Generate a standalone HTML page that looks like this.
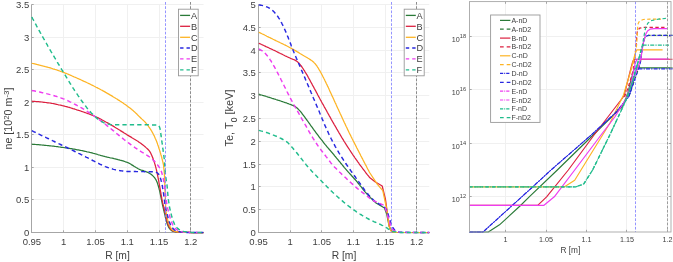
<!DOCTYPE html>
<html><head><meta charset="utf-8"><title>Profiles</title>
<style>
html,body{margin:0;padding:0;background:#fff;}
svg{display:block;will-change:transform;opacity:0.999;font-family:"Liberation Sans",sans-serif;fill:#404040;}
</style></head><body>
<svg width="673" height="262" viewBox="0 0 673 262">
<rect width="673" height="262" fill="#fff"/>
<line x1="31.5" y1="4.5" x2="31.5" y2="232.5" stroke="#f0f0f0" stroke-width="1"/>
<line x1="63.5" y1="4.5" x2="63.5" y2="232.5" stroke="#f0f0f0" stroke-width="1"/>
<line x1="95.5" y1="4.5" x2="95.5" y2="232.5" stroke="#f0f0f0" stroke-width="1"/>
<line x1="127.5" y1="4.5" x2="127.5" y2="232.5" stroke="#f0f0f0" stroke-width="1"/>
<line x1="159.5" y1="4.5" x2="159.5" y2="232.5" stroke="#f0f0f0" stroke-width="1"/>
<line x1="190.5" y1="4.5" x2="190.5" y2="232.5" stroke="#f0f0f0" stroke-width="1"/>
<line x1="31.9" y1="232.5" x2="203.54" y2="232.5" stroke="#f0f0f0" stroke-width="1"/>
<line x1="31.9" y1="199.5" x2="203.54" y2="199.5" stroke="#f0f0f0" stroke-width="1"/>
<line x1="31.9" y1="167.5" x2="203.54" y2="167.5" stroke="#f0f0f0" stroke-width="1"/>
<line x1="31.9" y1="134.5" x2="203.54" y2="134.5" stroke="#f0f0f0" stroke-width="1"/>
<line x1="31.9" y1="102.5" x2="203.54" y2="102.5" stroke="#f0f0f0" stroke-width="1"/>
<line x1="31.9" y1="69.5" x2="203.54" y2="69.5" stroke="#f0f0f0" stroke-width="1"/>
<line x1="31.9" y1="37.5" x2="203.54" y2="37.5" stroke="#f0f0f0" stroke-width="1"/>
<line x1="31.9" y1="4.5" x2="203.54" y2="4.5" stroke="#f0f0f0" stroke-width="1"/>
<line x1="31.5" y1="4.5" x2="31.5" y2="233.0" stroke="#a6a6a6" stroke-width="1"/>
<line x1="31.0" y1="232.5" x2="203.54" y2="232.5" stroke="#a6a6a6" stroke-width="1"/>
<line x1="31.5" y1="232.5" x2="31.5" y2="230.3" stroke="#a6a6a6" stroke-width="1"/>
<line x1="63.5" y1="232.5" x2="63.5" y2="230.3" stroke="#a6a6a6" stroke-width="1"/>
<line x1="95.5" y1="232.5" x2="95.5" y2="230.3" stroke="#a6a6a6" stroke-width="1"/>
<line x1="127.5" y1="232.5" x2="127.5" y2="230.3" stroke="#a6a6a6" stroke-width="1"/>
<line x1="159.5" y1="232.5" x2="159.5" y2="230.3" stroke="#a6a6a6" stroke-width="1"/>
<line x1="190.5" y1="232.5" x2="190.5" y2="230.3" stroke="#a6a6a6" stroke-width="1"/>
<line x1="31.5" y1="232.5" x2="33.7" y2="232.5" stroke="#a6a6a6" stroke-width="1"/>
<line x1="31.5" y1="199.5" x2="33.7" y2="199.5" stroke="#a6a6a6" stroke-width="1"/>
<line x1="31.5" y1="167.5" x2="33.7" y2="167.5" stroke="#a6a6a6" stroke-width="1"/>
<line x1="31.5" y1="134.5" x2="33.7" y2="134.5" stroke="#a6a6a6" stroke-width="1"/>
<line x1="31.5" y1="102.5" x2="33.7" y2="102.5" stroke="#a6a6a6" stroke-width="1"/>
<line x1="31.5" y1="69.5" x2="33.7" y2="69.5" stroke="#a6a6a6" stroke-width="1"/>
<line x1="31.5" y1="37.5" x2="33.7" y2="37.5" stroke="#a6a6a6" stroke-width="1"/>
<line x1="31.5" y1="4.5" x2="33.7" y2="4.5" stroke="#a6a6a6" stroke-width="1"/>
<path d="M31.8 144.2 L32.8 144.3 L33.8 144.3 L34.8 144.4 L35.8 144.5 L36.8 144.6 L37.8 144.6 L38.8 144.7 L39.8 144.8 L40.7 144.9 L41.7 145.0 L42.7 145.1 L43.7 145.2 L44.7 145.3 L45.7 145.4 L46.7 145.5 L47.7 145.6 L48.7 145.7 L49.7 145.8 L50.7 145.9 L51.6 146.0 L52.6 146.1 L53.6 146.2 L54.6 146.3 L55.6 146.5 L56.6 146.6 L57.6 146.7 L58.6 146.9 L59.6 147.0 L60.5 147.1 L61.5 147.3 L62.5 147.4 L63.5 147.5 L64.5 147.7 L65.5 147.8 L66.5 148.0 L67.4 148.1 L68.4 148.3 L69.4 148.4 L70.4 148.6 L71.4 148.7 L72.4 148.9 L73.4 149.1 L74.3 149.2 L75.3 149.4 L76.3 149.6 L77.3 149.8 L78.3 149.9 L79.2 150.1 L80.2 150.3 L81.2 150.5 L82.2 150.7 L83.1 150.9 L84.1 151.1 L85.1 151.3 L86.1 151.5 L87.0 151.8 L88.0 152.0 L89.0 152.2 L89.9 152.5 L90.9 152.7 L91.9 152.9 L92.8 153.2 L93.8 153.5 L94.8 153.7 L95.7 154.0 L96.7 154.2 L97.6 154.5 L98.6 154.8 L99.6 155.0 L100.5 155.3 L101.5 155.6 L102.5 155.8 L103.4 156.1 L104.4 156.3 L105.3 156.6 L106.3 156.8 L107.3 157.1 L108.3 157.3 L109.2 157.5 L110.2 157.8 L111.2 158.0 L112.2 158.2 L113.2 158.4 L114.1 158.7 L115.1 158.9 L116.1 159.1 L117.1 159.3 L118.1 159.6 L119.0 159.8 L120.0 160.1 L120.9 160.3 L121.9 160.6 L122.9 160.9 L123.8 161.2 L124.7 161.5 L125.6 161.8 L126.6 162.1 L127.5 162.5 L128.4 162.9 L129.2 163.3 L130.1 163.8 L131.0 164.3 L131.8 164.9 L132.7 165.4 L133.5 165.9 L134.4 166.5 L135.3 167.0 L136.1 167.5 L137.0 168.0 L137.8 168.5 L138.7 169.0 L139.6 169.4 L140.5 169.8 L141.4 170.1 L142.4 170.4 L143.4 170.7 L144.3 171.0 L145.3 171.3 L146.2 171.7 L147.1 172.1 L148.0 172.5 L148.9 173.0 L149.8 173.5 L150.6 174.0 L151.4 174.6 L152.2 175.2 L152.9 175.9 L153.6 176.6 L154.3 177.4 L154.9 178.2 L155.5 179.0 L156.0 179.8 L156.4 180.7 L156.8 181.6 L157.2 182.5 L157.5 183.4 L157.8 184.4 L158.1 185.3 L158.4 186.3 L158.7 187.3 L159.0 188.3 L159.2 189.2 L159.5 190.2 L159.7 191.2 L159.9 192.1 L160.1 193.1 L160.3 194.1 L160.5 195.1 L160.7 196.0 L160.9 197.0 L161.1 198.0 L161.3 199.0 L161.5 200.0 L161.7 200.9 L161.9 201.9 L162.1 202.9 L162.3 203.9 L162.5 204.8 L162.7 205.8 L163.0 206.8 L163.2 207.8 L163.4 208.7 L163.6 209.7 L163.9 210.7 L164.1 211.6 L164.3 212.6 L164.6 213.6 L164.8 214.5 L165.0 215.5 L165.2 216.5 L165.4 217.5 L165.7 218.4 L165.9 219.4 L166.2 220.4 L166.4 221.3 L166.7 222.3 L167.0 223.2 L167.4 224.2 L167.7 225.1 L168.1 226.0 L168.5 226.9 L169.0 227.8 L169.6 228.6 L170.2 229.4 L170.9 230.1 L171.7 230.7 L172.6 231.2 L173.5 231.5 L174.5 231.7 L175.5 231.9 L176.5 232.1 L177.5 232.1 L178.5 232.2 L179.5 232.3 L180.5 232.3 L181.5 232.4 L182.5 232.4 L183.5 232.4 L184.5 232.4 L185.5 232.4 L186.5 232.4 L187.5 232.4 L188.5 232.4 L189.4 232.5 L190.4 232.5 L191.4 232.5 L192.4 232.5 L193.4 232.5 L194.4 232.5 L195.4 232.5 L196.4 232.5 L197.4 232.5 L198.4 232.5 L199.4 232.5 L200.4 232.5 L201.4 232.5 L202.4 232.5 L203.4 232.5" fill="none" stroke="#2a7a38" stroke-width="1.25" stroke-linejoin="round"/>
<path d="M31.8 101.2 L32.8 101.3 L33.8 101.3 L34.8 101.4 L35.8 101.5 L36.8 101.5 L37.8 101.6 L38.8 101.7 L39.8 101.8 L40.8 101.9 L41.8 102.0 L42.8 102.1 L43.8 102.3 L44.7 102.4 L45.7 102.5 L46.7 102.6 L47.7 102.8 L48.7 102.9 L49.7 103.0 L50.7 103.2 L51.7 103.4 L52.6 103.5 L53.6 103.7 L54.6 103.9 L55.6 104.1 L56.6 104.3 L57.5 104.5 L58.5 104.8 L59.5 105.0 L60.5 105.2 L61.4 105.4 L62.4 105.7 L63.4 105.9 L64.4 106.1 L65.3 106.4 L66.3 106.6 L67.3 106.9 L68.2 107.2 L69.2 107.4 L70.1 107.7 L71.1 108.0 L72.1 108.3 L73.0 108.6 L74.0 108.9 L74.9 109.2 L75.9 109.5 L76.8 109.8 L77.8 110.1 L78.7 110.4 L79.7 110.7 L80.6 111.0 L81.6 111.4 L82.5 111.7 L83.5 112.0 L84.4 112.3 L85.4 112.7 L86.3 113.0 L87.2 113.3 L88.2 113.7 L89.1 114.0 L90.1 114.4 L91.0 114.7 L91.9 115.1 L92.8 115.5 L93.8 115.9 L94.7 116.3 L95.6 116.7 L96.5 117.1 L97.4 117.5 L98.3 117.9 L99.2 118.4 L100.1 118.8 L101.0 119.3 L101.9 119.8 L102.7 120.2 L103.6 120.7 L104.5 121.2 L105.4 121.7 L106.3 122.2 L107.1 122.6 L108.0 123.1 L108.9 123.6 L109.7 124.1 L110.6 124.6 L111.5 125.1 L112.3 125.6 L113.2 126.1 L114.0 126.6 L114.9 127.2 L115.7 127.7 L116.6 128.2 L117.4 128.7 L118.3 129.3 L119.1 129.8 L120.0 130.3 L120.8 130.9 L121.7 131.4 L122.5 131.9 L123.4 132.4 L124.2 133.0 L125.1 133.5 L125.9 134.0 L126.8 134.6 L127.6 135.1 L128.5 135.6 L129.3 136.1 L130.2 136.6 L131.1 137.1 L131.9 137.7 L132.8 138.2 L133.6 138.7 L134.5 139.2 L135.3 139.7 L136.2 140.3 L137.0 140.8 L137.9 141.3 L138.7 141.9 L139.5 142.5 L140.3 143.0 L141.1 143.6 L141.9 144.2 L142.7 144.8 L143.5 145.4 L144.3 146.1 L145.1 146.7 L145.8 147.4 L146.6 148.1 L147.3 148.7 L148.1 149.5 L148.7 150.2 L149.3 150.9 L149.9 151.7 L150.4 152.6 L150.9 153.5 L151.3 154.4 L151.7 155.3 L152.1 156.2 L152.5 157.2 L152.8 158.1 L153.2 159.0 L153.5 160.0 L153.9 160.9 L154.2 161.9 L154.5 162.8 L154.8 163.8 L155.1 164.7 L155.4 165.7 L155.6 166.7 L155.9 167.6 L156.1 168.6 L156.4 169.6 L156.6 170.5 L156.8 171.5 L157.0 172.5 L157.2 173.5 L157.4 174.4 L157.6 175.4 L157.8 176.4 L158.0 177.4 L158.2 178.4 L158.4 179.4 L158.6 180.3 L158.8 181.3 L158.9 182.3 L159.1 183.3 L159.3 184.3 L159.5 185.2 L159.6 186.2 L159.8 187.2 L160.0 188.2 L160.2 189.2 L160.3 190.2 L160.5 191.2 L160.7 192.1 L160.9 193.1 L161.0 194.1 L161.2 195.1 L161.4 196.1 L161.6 197.1 L161.7 198.0 L161.9 199.0 L162.1 200.0 L162.3 201.0 L162.5 202.0 L162.7 202.9 L163.0 203.9 L163.2 204.9 L163.5 205.8 L163.7 206.8 L163.9 207.8 L164.2 208.8 L164.4 209.7 L164.7 210.7 L164.9 211.7 L165.1 212.6 L165.4 213.6 L165.6 214.6 L165.8 215.6 L166.0 216.5 L166.2 217.5 L166.5 218.5 L166.7 219.4 L167.0 220.4 L167.2 221.4 L167.5 222.4 L167.8 223.3 L168.1 224.2 L168.5 225.2 L168.9 226.1 L169.4 227.0 L169.9 227.8 L170.4 228.7 L171.1 229.5 L171.8 230.1 L172.6 230.7 L173.5 231.1 L174.5 231.4 L175.4 231.7 L176.4 231.9 L177.4 232.0 L178.4 232.1 L179.4 232.2 L180.4 232.3 L181.4 232.3 L182.4 232.4 L183.4 232.4 L184.4 232.4 L185.4 232.4 L186.4 232.4 L187.4 232.4 L188.4 232.4 L189.4 232.4 L190.4 232.5 L191.4 232.5 L192.4 232.5 L193.4 232.5 L194.4 232.5 L195.4 232.5 L196.4 232.5 L197.4 232.5 L198.4 232.5 L199.4 232.5 L200.4 232.5 L201.4 232.5 L202.4 232.5 L203.4 232.5" fill="none" stroke="#dc2040" stroke-width="1.25" stroke-linejoin="round"/>
<path d="M31.8 63.3 L32.8 63.5 L33.8 63.7 L34.7 63.9 L35.7 64.1 L36.7 64.4 L37.6 64.6 L38.6 64.8 L39.6 65.1 L40.6 65.3 L41.5 65.6 L42.5 65.8 L43.5 66.1 L44.4 66.3 L45.4 66.6 L46.3 66.8 L47.3 67.1 L48.3 67.4 L49.2 67.6 L50.2 67.9 L51.1 68.2 L52.1 68.5 L53.0 68.8 L54.0 69.1 L54.9 69.4 L55.9 69.7 L56.8 70.0 L57.8 70.4 L58.7 70.7 L59.7 71.0 L60.6 71.4 L61.5 71.7 L62.5 72.0 L63.4 72.4 L64.3 72.7 L65.3 73.1 L66.2 73.4 L67.1 73.8 L68.0 74.2 L69.0 74.6 L69.9 75.0 L70.8 75.4 L71.7 75.8 L72.6 76.2 L73.5 76.6 L74.4 77.0 L75.4 77.4 L76.3 77.8 L77.2 78.2 L78.1 78.6 L79.0 79.0 L79.9 79.4 L80.8 79.8 L81.7 80.2 L82.6 80.6 L83.5 81.1 L84.4 81.5 L85.3 81.9 L86.2 82.3 L87.2 82.8 L88.1 83.2 L89.0 83.6 L89.9 84.0 L90.7 84.5 L91.6 84.9 L92.5 85.4 L93.4 85.8 L94.3 86.3 L95.2 86.7 L96.1 87.2 L97.0 87.6 L97.9 88.1 L98.7 88.5 L99.6 89.0 L100.5 89.5 L101.4 90.0 L102.3 90.4 L103.1 90.9 L104.0 91.4 L104.9 91.9 L105.7 92.4 L106.6 92.9 L107.4 93.4 L108.3 93.9 L109.2 94.4 L110.0 94.9 L110.9 95.4 L111.8 95.9 L112.6 96.4 L113.5 97.0 L114.3 97.5 L115.2 98.0 L116.0 98.5 L116.9 99.0 L117.7 99.6 L118.6 100.1 L119.4 100.6 L120.3 101.2 L121.1 101.7 L121.9 102.3 L122.8 102.8 L123.6 103.4 L124.4 104.0 L125.2 104.5 L126.0 105.1 L126.8 105.7 L127.6 106.3 L128.4 106.9 L129.2 107.5 L130.0 108.1 L130.8 108.7 L131.6 109.3 L132.3 110.0 L133.1 110.6 L133.8 111.3 L134.6 111.9 L135.3 112.6 L136.0 113.3 L136.8 114.0 L137.4 114.7 L138.1 115.4 L138.8 116.1 L139.5 116.8 L140.3 117.5 L141.0 118.2 L141.7 118.9 L142.5 119.6 L143.2 120.2 L143.9 120.9 L144.6 121.6 L145.3 122.3 L146.0 123.1 L146.6 123.9 L147.2 124.6 L147.8 125.4 L148.4 126.2 L149.0 127.1 L149.6 127.9 L150.1 128.7 L150.7 129.5 L151.2 130.4 L151.7 131.2 L152.2 132.1 L152.7 133.0 L153.2 133.9 L153.6 134.8 L154.1 135.6 L154.5 136.5 L154.9 137.4 L155.3 138.4 L155.7 139.3 L156.1 140.2 L156.5 141.1 L156.8 142.1 L157.2 143.0 L157.5 143.9 L157.8 144.9 L158.2 145.8 L158.5 146.8 L158.8 147.7 L159.1 148.7 L159.4 149.6 L159.7 150.6 L160.0 151.5 L160.3 152.5 L160.6 153.4 L160.8 154.4 L161.1 155.3 L161.4 156.3 L161.7 157.2 L161.9 158.2 L162.2 159.2 L162.4 160.1 L162.6 161.1 L162.9 162.1 L163.1 163.1 L163.3 164.0 L163.5 165.0 L163.6 166.0 L163.7 167.0 L163.8 168.0 L163.9 169.0 L164.0 170.0 L164.1 171.0 L164.2 172.0 L164.3 173.0 L164.4 173.9 L164.4 174.9 L164.5 175.9 L164.5 176.9 L164.6 177.9 L164.6 178.9 L164.7 179.9 L164.7 180.9 L164.7 181.9 L164.8 182.9 L164.8 183.9 L164.8 184.9 L164.9 185.9 L164.9 186.9 L164.9 187.9 L165.0 188.9 L165.0 189.9 L165.0 190.9 L165.1 191.9 L165.1 192.9 L165.1 193.9 L165.2 194.9 L165.2 195.9 L165.2 196.9 L165.3 197.9 L165.3 198.9 L165.4 199.9 L165.4 200.8 L165.4 201.8 L165.5 202.8 L165.5 203.8 L165.6 204.8 L165.6 205.8 L165.7 206.8 L165.8 207.8 L165.8 208.8 L165.9 209.8 L166.0 210.8 L166.1 211.8 L166.2 212.8 L166.4 213.8 L166.6 214.7 L166.8 215.7 L167.0 216.7 L167.2 217.7 L167.4 218.6 L167.6 219.6 L167.9 220.6 L168.2 221.5 L168.5 222.5 L168.8 223.4 L169.1 224.4 L169.5 225.3 L169.9 226.2 L170.4 227.1 L170.9 228.0 L171.4 228.8 L172.1 229.6 L172.8 230.2 L173.7 230.7 L174.6 231.2 L175.5 231.5 L176.5 231.7 L177.5 231.9 L178.5 232.0 L179.5 232.1 L180.5 232.2 L181.5 232.3 L182.5 232.3 L183.5 232.4 L184.5 232.4 L185.5 232.4 L186.5 232.4 L187.4 232.4 L188.4 232.4 L189.4 232.4 L190.4 232.5 L191.4 232.5 L192.4 232.5 L193.4 232.5 L194.4 232.5 L195.4 232.5 L196.4 232.5 L197.4 232.5 L198.4 232.5 L199.4 232.5 L200.4 232.5 L201.4 232.5 L202.4 232.5 L203.4 232.5" fill="none" stroke="#fdb424" stroke-width="1.25" stroke-linejoin="round"/>
<path d="M31.8 130.7 L32.7 131.1 L33.6 131.6 L34.5 132.0 L35.4 132.4 L36.3 132.9 L37.2 133.3 L38.1 133.7 L39.0 134.2 L39.9 134.6 L40.8 135.1 L41.7 135.5 L42.6 135.9 L43.5 136.4 L44.4 136.8 L45.3 137.2 L46.2 137.7 L47.1 138.1 L48.0 138.5 L48.9 138.9 L49.8 139.4 L50.7 139.8 L51.6 140.2 L52.5 140.7 L53.4 141.1 L54.3 141.5 L55.2 142.0 L56.1 142.4 L57.0 142.8 L57.9 143.2 L58.8 143.7 L59.7 144.1 L60.6 144.5 L61.5 145.0 L62.4 145.4 L63.3 145.8 L64.2 146.2 L65.1 146.7 L66.0 147.1 L66.8 147.5 L67.7 148.0 L68.6 148.4 L69.5 148.9 L70.4 149.3 L71.3 149.7 L72.2 150.2 L73.1 150.6 L74.0 151.0 L74.9 151.5 L75.8 151.9 L76.7 152.4 L77.6 152.8 L78.5 153.3 L79.4 153.7 L80.3 154.1 L81.2 154.6 L82.1 155.0 L82.9 155.5 L83.8 155.9 L84.7 156.4 L85.6 156.8 L86.5 157.3 L87.4 157.7 L88.3 158.2 L89.2 158.6 L90.1 159.1 L90.9 159.6 L91.8 160.0 L92.7 160.5 L93.6 160.9 L94.5 161.4 L95.4 161.9 L96.3 162.3 L97.1 162.8 L98.0 163.2 L98.9 163.6 L99.8 164.1 L100.7 164.5 L101.6 164.9 L102.5 165.3 L103.5 165.7 L104.4 166.2 L105.3 166.6 L106.2 166.9 L107.1 167.3 L108.1 167.6 L109.0 167.9 L110.0 168.2 L110.9 168.5 L111.9 168.8 L112.8 169.1 L113.8 169.4 L114.8 169.6 L115.7 169.9 L116.7 170.1 L117.7 170.2 L118.7 170.4 L119.7 170.6 L120.6 170.7 L121.6 170.9 L122.6 171.0 L123.6 171.1 L124.6 171.2 L125.6 171.3 L126.6 171.4 L127.6 171.4 L128.6 171.4 L129.6 171.5 L130.6 171.5 L131.6 171.5 L132.6 171.5 L133.6 171.5 L134.6 171.5 L135.6 171.5 L136.6 171.6 L137.6 171.6 L138.6 171.6 L139.6 171.6 L140.6 171.6 L141.6 171.6 L142.6 171.6 L143.6 171.6 L144.6 171.7 L145.6 171.7 L146.6 171.7 L147.7 171.7 L148.7 171.7 L149.7 171.7 L150.7 171.8 L151.7 171.8 L152.6 171.8 L153.6 171.8 L154.5 171.9 L155.5 172.0 L156.5 172.4 L157.4 173.0 L158.1 173.6 L158.6 174.2 L159.1 175.1 L159.6 176.0 L160.0 177.0 L160.4 178.0 L160.7 179.0 L161.0 179.9 L161.2 180.9 L161.5 181.8 L161.7 182.8 L161.9 183.8 L162.1 184.8 L162.3 185.8 L162.5 186.8 L162.6 187.7 L162.8 188.7 L163.0 189.7 L163.1 190.7 L163.3 191.7 L163.4 192.7 L163.6 193.7 L163.7 194.6 L163.8 195.6 L164.0 196.6 L164.1 197.6 L164.2 198.6 L164.4 199.6 L164.5 200.6 L164.6 201.6 L164.7 202.6 L164.8 203.6 L165.0 204.5 L165.1 205.5 L165.3 206.5 L165.5 207.5 L165.7 208.5 L165.9 209.4 L166.2 210.4 L166.5 211.3 L166.7 212.3 L167.0 213.3 L167.2 214.3 L167.4 215.2 L167.7 216.2 L167.9 217.2 L168.1 218.1 L168.4 219.1 L168.7 220.0 L169.0 221.0 L169.3 222.0 L169.7 222.9 L170.1 223.8 L170.5 224.7 L170.9 225.6 L171.4 226.5 L172.0 227.3 L172.6 228.1 L173.3 228.9 L174.0 229.5 L174.8 230.1 L175.7 230.6 L176.6 231.0 L177.6 231.4 L178.5 231.6 L179.5 231.8 L180.5 232.0 L181.5 232.1 L182.5 232.2 L183.5 232.3 L184.5 232.3 L185.4 232.3 L186.4 232.4 L187.4 232.4 L188.4 232.4 L189.4 232.4 L190.4 232.4 L191.4 232.4 L192.4 232.4 L193.4 232.5 L194.4 232.5 L195.4 232.5 L196.4 232.5 L197.4 232.5 L198.4 232.5 L199.4 232.5 L200.4 232.5 L201.4 232.5 L202.4 232.5 L203.4 232.5" fill="none" stroke="#2828e0" stroke-width="1.45" stroke-dasharray="4.3 3.1" stroke-linejoin="round"/>
<path d="M31.8 90.5 L32.8 90.7 L33.8 90.8 L34.8 91.0 L35.7 91.2 L36.7 91.4 L37.7 91.6 L38.7 91.8 L39.7 92.0 L40.6 92.2 L41.6 92.5 L42.6 92.7 L43.6 92.9 L44.5 93.1 L45.5 93.4 L46.5 93.6 L47.4 93.9 L48.4 94.1 L49.4 94.4 L50.3 94.6 L51.3 94.9 L52.3 95.2 L53.2 95.4 L54.2 95.7 L55.1 96.0 L56.1 96.3 L57.1 96.6 L58.0 96.9 L59.0 97.2 L59.9 97.6 L60.8 97.9 L61.8 98.2 L62.7 98.6 L63.6 98.9 L64.6 99.3 L65.5 99.7 L66.4 100.1 L67.3 100.5 L68.2 100.9 L69.1 101.3 L70.0 101.8 L70.9 102.2 L71.8 102.7 L72.7 103.1 L73.6 103.6 L74.5 104.1 L75.4 104.5 L76.3 105.0 L77.1 105.5 L78.0 106.0 L78.9 106.4 L79.8 106.9 L80.6 107.4 L81.5 107.9 L82.4 108.4 L83.2 108.9 L84.1 109.4 L84.9 110.0 L85.8 110.5 L86.6 111.0 L87.5 111.6 L88.3 112.1 L89.2 112.7 L90.0 113.2 L90.8 113.8 L91.7 114.3 L92.5 114.9 L93.3 115.4 L94.1 116.0 L95.0 116.6 L95.8 117.1 L96.6 117.7 L97.4 118.3 L98.2 118.9 L99.0 119.5 L99.8 120.1 L100.6 120.7 L101.4 121.3 L102.2 121.9 L103.0 122.5 L103.8 123.1 L104.6 123.7 L105.4 124.3 L106.2 125.0 L106.9 125.6 L107.7 126.2 L108.5 126.8 L109.3 127.4 L110.1 128.0 L110.9 128.7 L111.6 129.3 L112.4 129.9 L113.2 130.6 L114.0 131.2 L114.7 131.9 L115.5 132.5 L116.3 133.1 L117.0 133.8 L117.8 134.4 L118.6 135.1 L119.3 135.7 L120.1 136.3 L120.9 137.0 L121.7 137.6 L122.4 138.2 L123.2 138.8 L124.0 139.5 L124.8 140.1 L125.6 140.7 L126.4 141.3 L127.1 141.9 L127.9 142.5 L128.8 143.1 L129.6 143.7 L130.4 144.3 L131.2 144.9 L132.0 145.5 L132.8 146.0 L133.6 146.6 L134.4 147.2 L135.3 147.8 L136.1 148.3 L136.9 148.9 L137.7 149.5 L138.5 150.0 L139.4 150.6 L140.2 151.1 L141.1 151.7 L141.9 152.2 L142.8 152.7 L143.6 153.2 L144.5 153.7 L145.4 154.2 L146.2 154.8 L147.1 155.3 L147.9 155.8 L148.7 156.4 L149.6 157.0 L150.3 157.6 L151.1 158.2 L151.9 158.8 L152.6 159.5 L153.3 160.2 L154.1 160.9 L154.8 161.6 L155.4 162.4 L156.1 163.1 L156.7 163.9 L157.4 164.7 L158.0 165.5 L158.5 166.3 L159.1 167.1 L159.6 168.0 L160.1 168.9 L160.6 169.8 L161.0 170.7 L161.4 171.6 L161.7 172.5 L162.0 173.5 L162.2 174.4 L162.5 175.4 L162.7 176.3 L163.0 177.3 L163.2 178.3 L163.4 179.3 L163.6 180.3 L163.8 181.3 L163.9 182.3 L164.1 183.2 L164.3 184.2 L164.4 185.2 L164.6 186.2 L164.7 187.2 L164.8 188.2 L165.0 189.2 L165.1 190.2 L165.2 191.2 L165.3 192.2 L165.4 193.2 L165.5 194.1 L165.6 195.1 L165.7 196.1 L165.8 197.1 L165.9 198.1 L166.1 199.1 L166.2 200.1 L166.4 201.1 L166.5 202.1 L166.7 203.1 L166.8 204.1 L167.0 205.0 L167.2 206.0 L167.4 207.0 L167.6 208.0 L167.8 209.0 L168.1 209.9 L168.3 210.9 L168.6 211.9 L168.8 212.8 L169.1 213.8 L169.4 214.8 L169.6 215.7 L169.9 216.7 L170.1 217.7 L170.4 218.6 L170.7 219.6 L171.0 220.5 L171.3 221.5 L171.7 222.4 L172.1 223.3 L172.5 224.3 L172.9 225.2 L173.4 226.1 L173.9 226.9 L174.5 227.6 L175.2 228.4 L176.0 229.0 L176.9 229.7 L177.7 230.2 L178.6 230.6 L179.5 230.9 L180.5 231.2 L181.5 231.5 L182.4 231.7 L183.4 231.9 L184.4 232.0 L185.4 232.1 L186.4 232.2 L187.4 232.3 L188.4 232.3 L189.4 232.4 L190.4 232.4 L191.4 232.4 L192.4 232.4 L193.4 232.4 L194.4 232.5 L195.4 232.5 L196.4 232.5 L197.4 232.5 L198.4 232.5 L199.4 232.5 L200.4 232.5 L201.4 232.5 L202.4 232.5 L203.4 232.5" fill="none" stroke="#ee3cf0" stroke-width="1.45" stroke-dasharray="4.3 3.1" stroke-linejoin="round"/>
<path d="M31.8 17.0 L32.3 17.9 L32.7 18.8 L33.2 19.6 L33.7 20.5 L34.2 21.4 L34.6 22.3 L35.1 23.2 L35.6 24.0 L36.1 24.9 L36.5 25.8 L37.0 26.7 L37.5 27.5 L38.0 28.4 L38.5 29.3 L38.9 30.2 L39.4 31.0 L39.9 31.9 L40.4 32.8 L40.9 33.6 L41.4 34.5 L41.9 35.4 L42.3 36.3 L42.8 37.1 L43.3 38.0 L43.8 38.9 L44.3 39.7 L44.8 40.6 L45.3 41.5 L45.8 42.3 L46.3 43.2 L46.8 44.1 L47.3 44.9 L47.7 45.8 L48.2 46.7 L48.7 47.5 L49.2 48.4 L49.7 49.3 L50.2 50.1 L50.7 51.0 L51.2 51.9 L51.7 52.7 L52.2 53.6 L52.7 54.4 L53.3 55.3 L53.8 56.2 L54.3 57.0 L54.8 57.9 L55.3 58.7 L55.8 59.6 L56.3 60.5 L56.8 61.3 L57.3 62.2 L57.8 63.0 L58.3 63.9 L58.9 64.7 L59.4 65.6 L59.9 66.4 L60.4 67.3 L60.9 68.2 L61.4 69.0 L61.9 69.9 L62.5 70.7 L63.0 71.6 L63.5 72.4 L64.0 73.3 L64.5 74.1 L65.1 75.0 L65.6 75.8 L66.1 76.7 L66.6 77.5 L67.1 78.4 L67.6 79.3 L68.2 80.1 L68.7 81.0 L69.2 81.8 L69.7 82.7 L70.2 83.5 L70.8 84.4 L71.3 85.2 L71.8 86.1 L72.3 86.9 L72.9 87.8 L73.4 88.6 L74.0 89.4 L74.5 90.3 L75.0 91.1 L75.6 91.9 L76.1 92.8 L76.7 93.6 L77.3 94.4 L77.8 95.2 L78.4 96.1 L79.0 96.9 L79.5 97.7 L80.1 98.5 L80.7 99.3 L81.2 100.2 L81.8 101.0 L82.4 101.8 L83.0 102.6 L83.6 103.4 L84.2 104.2 L84.8 105.0 L85.4 105.8 L86.0 106.6 L86.6 107.4 L87.2 108.2 L87.9 109.0 L88.5 109.7 L89.1 110.5 L89.8 111.2 L90.5 112.0 L91.1 112.7 L91.8 113.4 L92.5 114.1 L93.2 114.9 L93.9 115.6 L94.6 116.3 L95.4 116.9 L96.1 117.6 L96.9 118.3 L97.7 118.9 L98.5 119.4 L99.3 120.0 L100.1 120.6 L101.0 121.1 L101.9 121.6 L102.7 122.1 L103.6 122.6 L104.6 123.0 L105.5 123.3 L106.4 123.6 L107.4 123.9 L108.3 124.1 L109.3 124.3 L110.3 124.5 L111.3 124.6 L112.3 124.6 L113.3 124.6 L114.3 124.7 L115.3 124.7 L116.3 124.7 L117.3 124.7 L118.3 124.7 L119.3 124.8 L120.3 124.8 L121.3 124.8 L122.3 124.8 L123.3 124.8 L124.3 124.8 L125.3 124.8 L126.3 124.8 L127.3 124.8 L128.4 124.8 L129.5 124.8 L130.5 124.8 L131.6 124.8 L132.8 124.8 L133.9 124.8 L135.0 124.8 L136.1 124.8 L137.2 124.8 L138.4 124.8 L139.5 124.8 L140.6 124.8 L141.7 124.8 L142.8 124.8 L143.9 124.8 L145.0 124.8 L146.0 124.8 L147.1 124.8 L148.1 124.8 L149.1 124.8 L150.1 124.9 L151.1 124.9 L152.0 124.9 L152.9 124.9 L153.7 124.9 L154.6 124.9 L155.4 124.9 L156.1 124.9 L156.8 124.9 L157.5 124.9 L158.1 124.9 L158.7 125.5 L159.3 126.5 L159.7 127.6 L160.0 128.6 L160.2 129.5 L160.3 130.5 L160.5 131.5 L160.6 132.5 L160.8 133.5 L160.9 134.5 L161.0 135.5 L161.2 136.5 L161.3 137.5 L161.5 138.5 L161.6 139.5 L161.7 140.4 L161.9 141.4 L162.0 142.4 L162.2 143.4 L162.3 144.4 L162.4 145.4 L162.6 146.4 L162.7 147.4 L162.8 148.3 L163.0 149.3 L163.1 150.3 L163.2 151.3 L163.4 152.3 L163.5 153.3 L163.6 154.3 L163.8 155.3 L163.9 156.3 L164.0 157.2 L164.2 158.2 L164.3 159.2 L164.4 160.2 L164.5 161.2 L164.5 162.2 L164.6 163.2 L164.7 164.2 L164.8 165.2 L164.8 166.2 L164.9 167.2 L165.0 168.2 L165.0 169.2 L165.1 170.2 L165.2 171.2 L165.2 172.2 L165.3 173.2 L165.4 174.2 L165.5 175.1 L165.6 176.1 L165.8 177.1 L165.9 178.1 L166.1 179.1 L166.2 180.1 L166.4 181.1 L166.5 182.1 L166.7 183.0 L166.9 184.0 L167.0 185.0 L167.1 186.0 L167.2 187.0 L167.3 188.0 L167.4 189.0 L167.5 190.0 L167.6 191.0 L167.6 192.0 L167.7 193.0 L167.8 194.0 L167.9 194.9 L167.9 195.9 L168.0 196.9 L168.2 197.9 L168.3 198.9 L168.4 199.9 L168.6 200.9 L168.7 201.9 L168.9 202.9 L169.0 203.8 L169.2 204.8 L169.3 205.8 L169.5 206.8 L169.7 207.8 L169.9 208.8 L170.1 209.7 L170.3 210.7 L170.5 211.7 L170.7 212.7 L171.0 213.6 L171.3 214.6 L171.5 215.5 L171.8 216.5 L172.1 217.5 L172.4 218.4 L172.7 219.4 L173.0 220.4 L173.3 221.3 L173.7 222.2 L174.1 223.1 L174.5 224.0 L175.0 224.9 L175.5 225.8 L176.1 226.6 L176.7 227.4 L177.4 228.1 L178.1 228.7 L178.9 229.3 L179.8 229.9 L180.7 230.3 L181.6 230.7 L182.5 231.1 L183.5 231.4 L184.5 231.6 L185.5 231.8 L186.4 232.0 L187.4 232.1 L188.4 232.2 L189.4 232.2 L190.4 232.3 L191.4 232.4 L192.4 232.4 L193.4 232.4 L194.4 232.4 L195.4 232.4 L196.4 232.5 L197.4 232.5 L198.4 232.5 L199.4 232.5 L200.4 232.5 L201.4 232.5 L202.4 232.5 L203.4 232.5" fill="none" stroke="#20bc8c" stroke-width="1.45" stroke-dasharray="4.3 3.1" stroke-linejoin="round"/>
<line x1="165.5" y1="2.0" x2="165.5" y2="232.5" stroke="#7a7aff" stroke-width="0.8" stroke-dasharray="2.7 1.55"/>
<line x1="190.5" y1="2.0" x2="190.5" y2="232.5" stroke="#808080" stroke-width="0.9" stroke-dasharray="2.7 1.55"/>
<text x="31.9" y="245.1" font-size="9.5" text-anchor="middle">0.95</text>
<text x="63.7" y="245.1" font-size="9.5" text-anchor="middle">1</text>
<text x="95.5" y="245.1" font-size="9.5" text-anchor="middle">1.05</text>
<text x="127.3" y="245.1" font-size="9.5" text-anchor="middle">1.1</text>
<text x="159.0" y="245.1" font-size="9.5" text-anchor="middle">1.15</text>
<text x="190.8" y="245.1" font-size="9.5" text-anchor="middle">1.2</text>
<text x="29.2" y="236.0" font-size="9.5" text-anchor="end">0</text>
<text x="29.2" y="203.4" font-size="9.5" text-anchor="end">0.5</text>
<text x="29.2" y="170.9" font-size="9.5" text-anchor="end">1</text>
<text x="29.2" y="138.3" font-size="9.5" text-anchor="end">1.5</text>
<text x="29.2" y="105.7" font-size="9.5" text-anchor="end">2</text>
<text x="29.2" y="73.2" font-size="9.5" text-anchor="end">2.5</text>
<text x="29.2" y="40.6" font-size="9.5" text-anchor="end">3</text>
<text x="29.2" y="8.0" font-size="9.5" text-anchor="end">3.5</text>
<text x="117.5" y="258.6" font-size="10.3" text-anchor="middle">R [m]</text>
<text transform="translate(12.4,118.5) rotate(-90)" font-size="10.7" text-anchor="middle">ne [10<tspan font-size="8" dy="-3.4">2</tspan><tspan dy="3.4">0 m</tspan><tspan font-size="8" dy="-3.4">-3</tspan><tspan dy="3.4">]</tspan></text>
<rect x="178.5" y="9.2" width="19.69999999999999" height="66.6" fill="#fff" stroke="#999" stroke-width="0.9"/>
<line x1="180.1" y1="15.4" x2="190.1" y2="15.4" stroke="#2a7a38" stroke-width="1.3"/>
<text x="190.9" y="18.7" font-size="9.2" text-anchor="start">A</text>
<line x1="180.1" y1="26.3" x2="190.1" y2="26.3" stroke="#dc2040" stroke-width="1.3"/>
<text x="190.9" y="29.6" font-size="9.2" text-anchor="start">B</text>
<line x1="180.1" y1="37.3" x2="190.1" y2="37.3" stroke="#fdb424" stroke-width="1.3"/>
<text x="190.9" y="40.599999999999994" font-size="9.2" text-anchor="start">C</text>
<line x1="180.1" y1="48.0" x2="190.1" y2="48.0" stroke="#2828e0" stroke-width="1.3" stroke-dasharray="3.4 3.0"/>
<text x="190.9" y="51.3" font-size="9.2" text-anchor="start">D</text>
<line x1="180.1" y1="58.9" x2="190.1" y2="58.9" stroke="#ee3cf0" stroke-width="1.3" stroke-dasharray="3.4 3.0"/>
<text x="190.9" y="62.199999999999996" font-size="9.2" text-anchor="start">E</text>
<line x1="180.1" y1="69.8" x2="190.1" y2="69.8" stroke="#20bc8c" stroke-width="1.3" stroke-dasharray="3.4 3.0"/>
<text x="190.9" y="73.1" font-size="9.2" text-anchor="start">F</text>
<line x1="258.5" y1="4.5" x2="258.5" y2="232.5" stroke="#f0f0f0" stroke-width="1"/>
<line x1="290.5" y1="4.5" x2="290.5" y2="232.5" stroke="#f0f0f0" stroke-width="1"/>
<line x1="321.5" y1="4.5" x2="321.5" y2="232.5" stroke="#f0f0f0" stroke-width="1"/>
<line x1="353.5" y1="4.5" x2="353.5" y2="232.5" stroke="#f0f0f0" stroke-width="1"/>
<line x1="385.5" y1="4.5" x2="385.5" y2="232.5" stroke="#f0f0f0" stroke-width="1"/>
<line x1="416.5" y1="4.5" x2="416.5" y2="232.5" stroke="#f0f0f0" stroke-width="1"/>
<line x1="258.6" y1="232.5" x2="429.3" y2="232.5" stroke="#f0f0f0" stroke-width="1"/>
<line x1="258.6" y1="209.5" x2="429.3" y2="209.5" stroke="#f0f0f0" stroke-width="1"/>
<line x1="258.6" y1="186.5" x2="429.3" y2="186.5" stroke="#f0f0f0" stroke-width="1"/>
<line x1="258.6" y1="164.5" x2="429.3" y2="164.5" stroke="#f0f0f0" stroke-width="1"/>
<line x1="258.6" y1="141.5" x2="429.3" y2="141.5" stroke="#f0f0f0" stroke-width="1"/>
<line x1="258.6" y1="118.5" x2="429.3" y2="118.5" stroke="#f0f0f0" stroke-width="1"/>
<line x1="258.6" y1="95.5" x2="429.3" y2="95.5" stroke="#f0f0f0" stroke-width="1"/>
<line x1="258.6" y1="72.5" x2="429.3" y2="72.5" stroke="#f0f0f0" stroke-width="1"/>
<line x1="258.6" y1="50.5" x2="429.3" y2="50.5" stroke="#f0f0f0" stroke-width="1"/>
<line x1="258.6" y1="27.5" x2="429.3" y2="27.5" stroke="#f0f0f0" stroke-width="1"/>
<line x1="258.6" y1="4.5" x2="429.3" y2="4.5" stroke="#f0f0f0" stroke-width="1"/>
<line x1="258.5" y1="4.5" x2="258.5" y2="233.0" stroke="#a6a6a6" stroke-width="1"/>
<line x1="258.0" y1="232.5" x2="429.3" y2="232.5" stroke="#a6a6a6" stroke-width="1"/>
<line x1="258.5" y1="232.5" x2="258.5" y2="230.3" stroke="#a6a6a6" stroke-width="1"/>
<line x1="290.5" y1="232.5" x2="290.5" y2="230.3" stroke="#a6a6a6" stroke-width="1"/>
<line x1="321.5" y1="232.5" x2="321.5" y2="230.3" stroke="#a6a6a6" stroke-width="1"/>
<line x1="353.5" y1="232.5" x2="353.5" y2="230.3" stroke="#a6a6a6" stroke-width="1"/>
<line x1="385.5" y1="232.5" x2="385.5" y2="230.3" stroke="#a6a6a6" stroke-width="1"/>
<line x1="416.5" y1="232.5" x2="416.5" y2="230.3" stroke="#a6a6a6" stroke-width="1"/>
<line x1="258.5" y1="232.5" x2="260.7" y2="232.5" stroke="#a6a6a6" stroke-width="1"/>
<line x1="258.5" y1="209.5" x2="260.7" y2="209.5" stroke="#a6a6a6" stroke-width="1"/>
<line x1="258.5" y1="186.5" x2="260.7" y2="186.5" stroke="#a6a6a6" stroke-width="1"/>
<line x1="258.5" y1="164.5" x2="260.7" y2="164.5" stroke="#a6a6a6" stroke-width="1"/>
<line x1="258.5" y1="141.5" x2="260.7" y2="141.5" stroke="#a6a6a6" stroke-width="1"/>
<line x1="258.5" y1="118.5" x2="260.7" y2="118.5" stroke="#a6a6a6" stroke-width="1"/>
<line x1="258.5" y1="95.5" x2="260.7" y2="95.5" stroke="#a6a6a6" stroke-width="1"/>
<line x1="258.5" y1="72.5" x2="260.7" y2="72.5" stroke="#a6a6a6" stroke-width="1"/>
<line x1="258.5" y1="50.5" x2="260.7" y2="50.5" stroke="#a6a6a6" stroke-width="1"/>
<line x1="258.5" y1="27.5" x2="260.7" y2="27.5" stroke="#a6a6a6" stroke-width="1"/>
<line x1="258.5" y1="4.5" x2="260.7" y2="4.5" stroke="#a6a6a6" stroke-width="1"/>
<path d="M258.8 94.2 L259.8 94.5 L260.7 94.8 L261.7 95.0 L262.6 95.3 L263.6 95.6 L264.5 95.9 L265.5 96.2 L266.4 96.5 L267.4 96.8 L268.3 97.1 L269.3 97.4 L270.2 97.7 L271.2 98.0 L272.1 98.3 L273.1 98.6 L274.0 98.9 L275.0 99.2 L275.9 99.5 L276.9 99.8 L277.8 100.1 L278.8 100.4 L279.7 100.7 L280.7 101.0 L281.6 101.3 L282.6 101.6 L283.5 102.0 L284.5 102.3 L285.4 102.6 L286.4 102.9 L287.3 103.3 L288.2 103.6 L289.2 104.0 L290.1 104.3 L291.0 104.7 L292.0 105.1 L292.9 105.4 L293.8 105.9 L294.7 106.3 L295.5 106.8 L296.3 107.4 L297.1 108.0 L297.8 108.7 L298.5 109.4 L299.2 110.2 L299.9 110.9 L300.6 111.6 L301.2 112.4 L301.8 113.2 L302.4 114.0 L303.0 114.8 L303.6 115.6 L304.2 116.4 L304.8 117.2 L305.4 118.0 L306.0 118.8 L306.6 119.6 L307.1 120.4 L307.7 121.2 L308.3 122.0 L308.9 122.8 L309.5 123.6 L310.1 124.5 L310.6 125.3 L311.2 126.1 L311.8 126.9 L312.4 127.7 L313.0 128.5 L313.5 129.3 L314.1 130.1 L314.7 130.9 L315.3 131.7 L315.9 132.5 L316.5 133.3 L317.1 134.1 L317.7 134.9 L318.3 135.7 L318.9 136.5 L319.5 137.3 L320.1 138.1 L320.7 138.9 L321.4 139.7 L322.0 140.4 L322.6 141.2 L323.2 142.0 L323.8 142.8 L324.4 143.6 L325.0 144.4 L325.7 145.1 L326.3 145.9 L326.9 146.7 L327.6 147.4 L328.2 148.2 L328.9 149.0 L329.5 149.7 L330.2 150.5 L330.8 151.2 L331.5 152.0 L332.1 152.7 L332.8 153.5 L333.4 154.2 L334.1 155.0 L334.7 155.8 L335.3 156.5 L336.0 157.3 L336.6 158.1 L337.2 158.8 L337.9 159.6 L338.5 160.4 L339.1 161.2 L339.8 161.9 L340.4 162.7 L341.0 163.5 L341.7 164.2 L342.3 165.0 L342.9 165.8 L343.6 166.5 L344.2 167.3 L344.9 168.1 L345.5 168.8 L346.2 169.6 L346.8 170.3 L347.5 171.1 L348.1 171.8 L348.8 172.6 L349.5 173.3 L350.1 174.0 L350.8 174.8 L351.5 175.5 L352.1 176.3 L352.8 177.0 L353.5 177.7 L354.1 178.5 L354.8 179.2 L355.5 180.0 L356.1 180.7 L356.8 181.5 L357.4 182.2 L358.0 183.0 L358.7 183.8 L359.3 184.6 L359.9 185.3 L360.5 186.1 L361.2 186.9 L361.8 187.7 L362.4 188.5 L363.0 189.3 L363.6 190.0 L364.3 190.8 L364.9 191.6 L365.5 192.3 L366.2 193.1 L366.8 193.8 L367.5 194.6 L368.2 195.3 L368.9 196.0 L369.6 196.7 L370.3 197.5 L371.0 198.2 L371.7 198.9 L372.4 199.6 L373.1 200.3 L373.8 201.0 L374.5 201.6 L375.3 202.3 L376.0 203.0 L376.0 203.0 L384.5 208.0 L386.7 214.0 L389.2 226.6 L391.0 230.6 L393.2 232.1 L396.7 232.4 L429.2 232.5" fill="none" stroke="#2a7a38" stroke-width="1.25" stroke-linejoin="round"/>
<path d="M258.8 43.2 L259.7 43.6 L260.6 44.0 L261.5 44.5 L262.4 44.9 L263.3 45.3 L264.2 45.7 L265.1 46.1 L266.0 46.6 L266.9 47.0 L267.8 47.4 L268.7 47.8 L269.6 48.3 L270.6 48.7 L271.5 49.1 L272.4 49.5 L273.3 50.0 L274.2 50.4 L275.1 50.8 L276.0 51.3 L276.9 51.7 L277.7 52.1 L278.6 52.6 L279.5 53.0 L280.4 53.5 L281.3 53.9 L282.2 54.3 L283.1 54.8 L284.0 55.2 L284.9 55.7 L285.8 56.1 L286.7 56.5 L287.6 57.0 L288.5 57.4 L289.4 57.8 L290.3 58.2 L291.2 58.6 L292.2 59.0 L293.1 59.4 L294.1 59.7 L295.0 60.1 L295.8 60.6 L296.7 61.1 L297.4 61.7 L298.1 62.4 L298.8 63.1 L299.5 63.9 L300.2 64.7 L300.8 65.5 L301.4 66.2 L302.0 67.1 L302.5 67.9 L303.1 68.7 L303.6 69.6 L304.2 70.4 L304.7 71.2 L305.2 72.1 L305.7 72.9 L306.3 73.8 L306.8 74.6 L307.3 75.5 L307.8 76.4 L308.2 77.2 L308.7 78.1 L309.2 79.0 L309.7 79.9 L310.2 80.8 L310.6 81.6 L311.1 82.5 L311.6 83.4 L312.1 84.3 L312.5 85.1 L313.0 86.0 L313.5 86.9 L314.0 87.8 L314.4 88.6 L314.9 89.5 L315.4 90.4 L315.9 91.3 L316.3 92.2 L316.8 93.0 L317.3 93.9 L317.7 94.8 L318.2 95.7 L318.7 96.6 L319.2 97.4 L319.6 98.3 L320.1 99.2 L320.6 100.1 L321.1 100.9 L321.5 101.8 L322.0 102.7 L322.5 103.6 L323.0 104.4 L323.5 105.3 L324.0 106.2 L324.4 107.1 L324.9 107.9 L325.4 108.8 L325.9 109.7 L326.4 110.5 L326.9 111.4 L327.3 112.3 L327.8 113.2 L328.3 114.0 L328.8 114.9 L329.3 115.8 L329.8 116.6 L330.3 117.5 L330.8 118.4 L331.2 119.3 L331.7 120.1 L332.2 121.0 L332.7 121.9 L333.2 122.7 L333.7 123.6 L334.2 124.5 L334.7 125.3 L335.2 126.2 L335.7 127.0 L336.2 127.9 L336.7 128.8 L337.2 129.6 L337.7 130.5 L338.2 131.4 L338.7 132.2 L339.2 133.1 L339.7 133.9 L340.2 134.8 L340.7 135.7 L341.2 136.5 L341.7 137.4 L342.2 138.2 L342.8 139.1 L343.3 139.9 L343.8 140.8 L344.3 141.6 L344.9 142.5 L345.4 143.3 L345.9 144.2 L346.5 145.0 L347.0 145.9 L347.5 146.7 L348.1 147.5 L348.6 148.4 L349.2 149.2 L349.7 150.0 L350.3 150.9 L350.8 151.7 L351.4 152.5 L351.9 153.4 L352.5 154.2 L353.0 155.0 L353.6 155.8 L354.2 156.7 L354.7 157.5 L355.3 158.3 L355.9 159.1 L356.4 159.9 L357.0 160.7 L357.6 161.6 L358.2 162.4 L358.8 163.2 L359.3 164.0 L359.9 164.8 L360.5 165.6 L361.1 166.4 L361.7 167.2 L362.3 168.0 L362.9 168.8 L363.5 169.6 L364.1 170.4 L364.7 171.2 L365.3 172.0 L365.9 172.8 L366.5 173.6 L367.1 174.4 L367.7 175.1 L368.4 175.9 L369.0 176.7 L369.6 177.5 L369.6 177.5 L375.0 181.7 L382.2 186.0 L385.5 199.5 L388.2 219.0 L389.9 228.5 L391.7 231.5 L395.7 232.3 L429.2 232.5" fill="none" stroke="#dc2040" stroke-width="1.25" stroke-linejoin="round"/>
<path d="M258.8 32.2 L259.7 32.6 L260.6 33.1 L261.5 33.5 L262.4 34.0 L263.3 34.4 L264.2 34.8 L265.1 35.3 L266.0 35.7 L266.8 36.2 L267.7 36.6 L268.6 37.1 L269.5 37.5 L270.4 37.9 L271.3 38.4 L272.2 38.8 L273.1 39.3 L274.0 39.7 L274.9 40.1 L275.8 40.6 L276.7 41.0 L277.6 41.5 L278.5 41.9 L279.4 42.3 L280.3 42.8 L281.2 43.2 L282.1 43.6 L283.0 44.0 L283.9 44.5 L284.8 44.9 L285.7 45.4 L286.6 45.8 L287.4 46.3 L288.3 46.7 L289.2 47.2 L290.1 47.7 L291.0 48.1 L291.8 48.6 L292.7 49.1 L293.6 49.6 L294.4 50.1 L295.3 50.6 L296.2 51.1 L297.0 51.6 L297.9 52.1 L298.7 52.6 L299.6 53.2 L300.4 53.7 L301.3 54.2 L302.1 54.7 L303.0 55.3 L303.8 55.8 L304.7 56.3 L305.5 56.8 L306.4 57.3 L307.3 57.8 L308.1 58.3 L309.0 58.8 L309.9 59.4 L310.7 59.9 L311.5 60.5 L312.3 61.0 L313.1 61.7 L313.8 62.3 L314.5 63.1 L315.2 63.8 L315.8 64.6 L316.4 65.4 L317.0 66.2 L317.5 67.0 L318.1 67.8 L318.6 68.7 L319.1 69.6 L319.6 70.4 L320.1 71.3 L320.6 72.2 L321.1 73.0 L321.5 73.9 L322.0 74.8 L322.5 75.7 L322.9 76.6 L323.4 77.5 L323.8 78.3 L324.3 79.2 L324.7 80.1 L325.1 81.0 L325.6 81.9 L326.0 82.8 L326.4 83.7 L326.9 84.6 L327.3 85.5 L327.7 86.4 L328.2 87.3 L328.6 88.2 L329.0 89.1 L329.4 90.1 L329.8 91.0 L330.2 91.9 L330.7 92.8 L331.1 93.7 L331.5 94.6 L331.9 95.5 L332.3 96.4 L332.8 97.3 L333.2 98.2 L333.6 99.1 L334.0 100.0 L334.4 100.9 L334.8 101.8 L335.2 102.7 L335.7 103.6 L336.1 104.6 L336.5 105.5 L336.9 106.4 L337.3 107.3 L337.7 108.2 L338.2 109.1 L338.6 110.0 L339.0 110.9 L339.4 111.8 L339.8 112.7 L340.2 113.6 L340.7 114.5 L341.1 115.4 L341.5 116.3 L341.9 117.2 L342.3 118.1 L342.7 119.0 L343.2 120.0 L343.6 120.9 L344.0 121.8 L344.4 122.7 L344.9 123.6 L345.3 124.5 L345.7 125.4 L346.1 126.3 L346.6 127.2 L347.0 128.1 L347.4 129.0 L347.8 129.9 L348.3 130.8 L348.7 131.7 L349.1 132.6 L349.6 133.5 L350.0 134.4 L350.5 135.3 L350.9 136.1 L351.3 137.0 L351.8 137.9 L352.2 138.8 L352.7 139.7 L353.1 140.6 L353.6 141.5 L354.0 142.4 L354.5 143.3 L354.9 144.2 L355.4 145.0 L355.8 145.9 L356.3 146.8 L356.7 147.7 L357.2 148.6 L357.7 149.5 L358.1 150.4 L358.6 151.3 L359.0 152.2 L359.5 153.0 L359.9 153.9 L360.4 154.8 L360.8 155.7 L361.3 156.6 L361.8 157.5 L362.2 158.4 L362.7 159.2 L363.1 160.1 L363.6 161.0 L364.0 161.9 L364.5 162.8 L365.0 163.7 L365.4 164.6 L365.9 165.4 L366.4 166.3 L366.8 167.2 L367.3 168.1 L367.7 169.0 L368.2 169.9 L368.7 170.7 L369.1 171.6 L369.6 172.5 L369.6 172.5 L377.4 184.4 L382.8 190.6 L386.7 209.0 L389.2 226.6 L391.0 231.0 L393.7 232.3 L429.2 232.5" fill="none" stroke="#fdb424" stroke-width="1.25" stroke-linejoin="round"/>
<path d="M258.8 5.0 L259.8 5.1 L260.8 5.2 L261.8 5.4 L262.8 5.6 L263.7 5.8 L264.7 6.1 L265.6 6.4 L266.6 6.8 L267.5 7.2 L268.4 7.6 L269.3 8.1 L270.1 8.6 L270.9 9.1 L271.7 9.7 L272.5 10.4 L273.2 11.1 L273.9 11.8 L274.6 12.5 L275.2 13.3 L275.9 14.0 L276.5 14.8 L277.1 15.6 L277.7 16.4 L278.3 17.2 L278.8 18.1 L279.4 18.9 L279.9 19.8 L280.4 20.6 L280.9 21.5 L281.3 22.4 L281.8 23.2 L282.2 24.1 L282.7 25.0 L283.1 25.9 L283.5 26.8 L284.0 27.7 L284.4 28.7 L284.8 29.6 L285.2 30.5 L285.6 31.4 L286.0 32.3 L286.4 33.2 L286.8 34.1 L287.2 35.1 L287.5 36.0 L287.9 36.9 L288.3 37.8 L288.6 38.7 L289.0 39.7 L289.4 40.6 L289.7 41.5 L290.1 42.5 L290.4 43.4 L290.8 44.3 L291.1 45.3 L291.5 46.2 L291.9 47.1 L292.2 48.0 L292.6 49.0 L293.0 49.9 L293.3 50.8 L293.7 51.7 L294.1 52.7 L294.5 53.6 L294.9 54.5 L295.3 55.4 L295.6 56.3 L296.0 57.2 L296.4 58.2 L296.8 59.1 L297.2 60.0 L297.6 60.9 L298.0 61.8 L298.4 62.7 L298.8 63.7 L299.2 64.6 L299.6 65.5 L300.0 66.4 L300.3 67.3 L300.7 68.2 L301.1 69.1 L301.5 70.1 L301.9 71.0 L302.3 71.9 L302.7 72.8 L303.1 73.7 L303.5 74.6 L303.9 75.6 L304.3 76.5 L304.7 77.4 L305.1 78.3 L305.4 79.2 L305.8 80.1 L306.2 81.0 L306.6 82.0 L307.0 82.9 L307.4 83.8 L307.8 84.7 L308.2 85.6 L308.6 86.5 L309.0 87.5 L309.4 88.4 L309.7 89.3 L310.1 90.2 L310.5 91.1 L310.9 92.0 L311.3 93.0 L311.7 93.9 L312.1 94.8 L312.5 95.7 L312.9 96.6 L313.2 97.5 L313.6 98.5 L314.0 99.4 L314.4 100.3 L314.8 101.2 L315.2 102.1 L315.6 103.0 L316.0 104.0 L316.3 104.9 L316.7 105.8 L317.1 106.7 L317.5 107.6 L317.9 108.5 L318.3 109.5 L318.7 110.4 L319.1 111.3 L319.5 112.2 L319.8 113.1 L320.2 114.1 L320.6 115.0 L321.0 115.9 L321.4 116.8 L321.8 117.7 L322.1 118.7 L322.5 119.6 L322.9 120.5 L323.3 121.4 L323.7 122.3 L324.1 123.3 L324.4 124.2 L324.8 125.1 L325.2 126.0 L325.6 126.9 L326.0 127.8 L326.4 128.7 L326.8 129.6 L327.3 130.5 L327.7 131.4 L328.1 132.3 L328.5 133.3 L328.9 134.2 L329.4 135.0 L329.8 135.9 L330.2 136.8 L330.7 137.7 L331.1 138.6 L331.6 139.5 L332.0 140.4 L332.5 141.3 L332.9 142.2 L333.4 143.1 L333.9 143.9 L334.4 144.8 L334.8 145.7 L335.3 146.6 L335.8 147.4 L336.3 148.3 L336.8 149.1 L337.3 150.0 L337.8 150.9 L338.3 151.7 L338.8 152.6 L339.3 153.4 L339.9 154.3 L340.4 155.1 L340.9 156.0 L341.4 156.8 L342.0 157.7 L342.5 158.5 L343.1 159.3 L343.6 160.2 L344.1 161.0 L344.7 161.8 L345.2 162.7 L345.8 163.5 L346.3 164.3 L346.9 165.1 L347.5 166.0 L348.0 166.8 L348.6 167.6 L349.2 168.4 L349.7 169.2 L350.3 170.0 L350.9 170.9 L351.5 171.7 L352.1 172.5 L352.6 173.3 L353.2 174.1 L353.8 174.9 L354.4 175.7 L355.0 176.5 L355.6 177.3 L356.1 178.1 L356.7 178.9 L357.3 179.7 L357.9 180.6 L358.5 181.4 L359.0 182.2 L359.6 183.0 L360.2 183.8 L360.8 184.6 L361.3 185.5 L361.9 186.3 L362.5 187.1 L363.1 187.9 L363.7 188.7 L364.2 189.5 L364.8 190.3 L365.5 191.1 L366.1 191.9 L366.7 192.6 L367.3 193.4 L368.0 194.1 L368.6 194.9 L369.3 195.6 L369.9 196.4 L370.6 197.1 L371.3 197.8 L372.0 198.6 L372.7 199.3 L373.4 200.0 L374.1 200.7 L374.8 201.4 L374.8 201.4 L385.2 207.8 L386.9 210.5 L390.5 222.0 L392.7 227.5 L395.2 230.8 L398.7 232.3 L429.2 232.5" fill="none" stroke="#2828e0" stroke-width="1.45" stroke-dasharray="4.3 3.1" stroke-linejoin="round"/>
<path d="M258.8 49.0 L259.7 49.4 L260.6 49.9 L261.5 50.3 L262.3 50.9 L263.1 51.5 L263.9 52.1 L264.6 52.8 L265.3 53.5 L266.0 54.3 L266.6 55.0 L267.3 55.8 L267.9 56.6 L268.5 57.4 L269.1 58.2 L269.7 59.0 L270.2 59.8 L270.8 60.7 L271.3 61.5 L271.8 62.4 L272.4 63.2 L272.8 64.1 L273.3 65.0 L273.8 65.8 L274.3 66.7 L274.8 67.6 L275.3 68.5 L275.7 69.3 L276.2 70.2 L276.7 71.1 L277.1 72.0 L277.6 72.9 L278.1 73.8 L278.5 74.6 L279.0 75.5 L279.4 76.4 L279.9 77.3 L280.3 78.2 L280.8 79.1 L281.2 80.0 L281.7 80.9 L282.1 81.8 L282.6 82.7 L283.0 83.6 L283.5 84.4 L283.9 85.3 L284.4 86.2 L284.8 87.1 L285.3 88.0 L285.7 88.9 L286.1 89.8 L286.6 90.7 L287.0 91.6 L287.5 92.5 L287.9 93.4 L288.4 94.3 L288.8 95.2 L289.3 96.1 L289.7 97.0 L290.2 97.8 L290.6 98.7 L291.1 99.6 L291.6 100.5 L292.1 101.4 L292.5 102.2 L293.0 103.1 L293.5 104.0 L294.0 104.9 L294.5 105.7 L294.9 106.6 L295.4 107.5 L295.9 108.4 L296.4 109.2 L296.9 110.1 L297.4 111.0 L297.9 111.8 L298.4 112.7 L298.9 113.6 L299.4 114.5 L299.8 115.3 L300.3 116.2 L300.8 117.1 L301.3 117.9 L301.8 118.8 L302.3 119.7 L302.8 120.5 L303.3 121.4 L303.8 122.3 L304.3 123.1 L304.8 124.0 L305.3 124.9 L305.8 125.7 L306.3 126.6 L306.8 127.5 L307.3 128.4 L307.7 129.2 L308.2 130.1 L308.7 131.0 L309.2 131.8 L309.7 132.7 L310.2 133.5 L310.8 134.4 L311.3 135.3 L311.8 136.1 L312.3 137.0 L312.8 137.8 L313.3 138.7 L313.9 139.5 L314.4 140.4 L314.9 141.2 L315.5 142.0 L316.0 142.9 L316.6 143.7 L317.1 144.5 L317.7 145.4 L318.3 146.2 L318.9 147.0 L319.4 147.8 L320.0 148.6 L320.6 149.4 L321.2 150.2 L321.8 151.0 L322.4 151.8 L323.0 152.6 L323.6 153.4 L324.2 154.2 L324.9 155.0 L325.5 155.8 L326.1 156.6 L326.7 157.3 L327.3 158.1 L327.9 158.9 L328.5 159.7 L329.1 160.5 L329.7 161.3 L330.3 162.1 L330.9 162.9 L331.6 163.7 L332.2 164.5 L332.8 165.2 L333.5 165.9 L334.2 166.7 L334.9 167.4 L335.6 168.1 L336.3 168.8 L337.0 169.5 L337.7 170.2 L338.4 170.9 L339.1 171.6 L339.8 172.3 L340.6 173.0 L341.3 173.7 L342.0 174.4 L342.8 175.1 L343.5 175.8 L344.2 176.4 L344.9 177.1 L345.7 177.8 L346.4 178.5 L347.1 179.2 L347.8 179.9 L348.6 180.6 L349.3 181.2 L350.0 181.9 L350.8 182.6 L351.5 183.3 L352.2 183.9 L353.0 184.6 L353.7 185.3 L354.5 185.9 L355.2 186.6 L356.0 187.3 L356.7 187.9 L357.5 188.6 L358.3 189.2 L359.0 189.8 L359.8 190.4 L360.6 191.1 L361.4 191.7 L362.2 192.3 L363.0 192.9 L363.8 193.5 L364.5 194.1 L365.3 194.8 L366.1 195.4 L366.9 196.0 L367.7 196.6 L368.5 197.2 L369.3 197.8 L370.0 198.5 L370.8 199.1 L371.6 199.7 L372.4 200.3 L372.4 200.3 L384.5 205.5 L388.0 216.7 L390.5 225.3 L392.7 229.5 L395.2 231.5 L399.7 232.4 L429.2 232.5" fill="none" stroke="#ee3cf0" stroke-width="1.45" stroke-dasharray="4.3 3.1" stroke-linejoin="round"/>
<path d="M258.8 130.4 L259.8 130.6 L260.7 130.9 L261.7 131.1 L262.7 131.4 L263.6 131.6 L264.6 131.9 L265.5 132.2 L266.5 132.5 L267.4 132.8 L268.4 133.1 L269.3 133.5 L270.3 133.8 L271.2 134.1 L272.1 134.5 L273.0 134.9 L274.0 135.3 L274.9 135.7 L275.8 136.0 L276.7 136.4 L277.6 136.8 L278.5 137.3 L279.4 137.7 L280.3 138.1 L281.2 138.5 L282.1 139.0 L283.0 139.5 L283.8 140.0 L284.7 140.5 L285.5 141.1 L286.4 141.6 L287.2 142.2 L287.9 142.8 L288.6 143.5 L289.3 144.2 L290.0 144.9 L290.7 145.6 L291.4 146.4 L292.0 147.2 L292.7 147.9 L293.3 148.7 L293.9 149.5 L294.6 150.3 L295.2 151.0 L295.9 151.8 L296.5 152.5 L297.1 153.3 L297.7 154.1 L298.4 154.9 L299.0 155.7 L299.6 156.4 L300.2 157.2 L300.8 158.0 L301.4 158.8 L302.1 159.6 L302.7 160.4 L303.3 161.1 L303.9 161.9 L304.5 162.7 L305.1 163.5 L305.8 164.3 L306.4 165.1 L307.0 165.8 L307.6 166.6 L308.3 167.3 L309.0 168.1 L309.6 168.8 L310.3 169.6 L311.0 170.3 L311.6 171.0 L312.3 171.7 L313.0 172.5 L313.7 173.2 L314.4 173.9 L315.1 174.6 L315.8 175.3 L316.5 176.0 L317.2 176.7 L317.9 177.5 L318.6 178.2 L319.3 178.9 L320.0 179.6 L320.7 180.3 L321.4 181.0 L322.1 181.7 L322.8 182.4 L323.5 183.2 L324.2 183.9 L324.9 184.6 L325.6 185.3 L326.3 186.0 L327.0 186.7 L327.7 187.4 L328.4 188.1 L329.1 188.8 L329.8 189.5 L330.5 190.2 L331.2 190.9 L331.9 191.6 L332.6 192.3 L333.4 193.0 L334.1 193.7 L334.8 194.3 L335.6 195.0 L336.3 195.7 L337.0 196.3 L337.8 197.0 L338.5 197.7 L339.3 198.3 L340.0 199.0 L340.8 199.6 L341.5 200.3 L342.3 200.9 L343.1 201.6 L343.8 202.2 L344.6 202.9 L345.4 203.5 L346.1 204.1 L346.9 204.8 L347.7 205.4 L348.5 206.0 L349.3 206.6 L350.1 207.2 L350.9 207.8 L351.7 208.4 L352.5 209.0 L353.3 209.5 L354.1 210.1 L354.9 210.7 L355.7 211.2 L356.5 211.8 L357.4 212.3 L358.2 212.9 L359.0 213.4 L359.9 214.0 L360.7 214.5 L361.6 215.0 L362.4 215.5 L363.3 216.1 L364.2 216.6 L365.0 217.1 L365.9 217.6 L366.8 218.0 L367.6 218.5 L368.5 219.0 L369.4 219.5 L370.3 219.9 L371.1 220.4 L372.0 220.8 L372.9 221.2 L373.8 221.6 L374.8 222.0 L375.7 222.4 L376.6 222.8 L377.5 223.2 L378.4 223.6 L379.4 224.0 L380.3 224.4 L381.2 224.8 L382.1 225.3 L383.0 225.7 L383.8 226.2 L384.7 226.6 L385.6 227.1 L386.4 227.7 L387.2 228.2 L388.1 228.8 L388.9 229.3 L389.8 229.7 L390.7 230.2 L391.6 230.7 L392.5 231.2 L393.4 231.5 L394.4 231.7 L395.3 231.9 L396.3 232.1 L397.3 232.2 L398.3 232.3 L399.3 232.4 L400.3 232.4 L401.3 232.4 L402.3 232.4 L403.3 232.4 L404.3 232.4 L405.3 232.4 L406.3 232.4 L407.3 232.5 L408.3 232.5 L409.2 232.5 L410.2 232.5 L411.2 232.5 L412.2 232.5 L413.2 232.5 L414.2 232.5 L415.2 232.5 L416.2 232.5 L417.2 232.5 L418.2 232.5 L419.2 232.5 L420.2 232.5 L421.2 232.5 L422.2 232.5 L423.2 232.5 L424.2 232.5 L425.2 232.5 L426.2 232.5 L427.2 232.5 L428.2 232.5 L429.2 232.5" fill="none" stroke="#20bc8c" stroke-width="1.45" stroke-dasharray="4.3 3.1" stroke-linejoin="round"/>
<line x1="391.5" y1="2.0" x2="391.5" y2="232.5" stroke="#7a7aff" stroke-width="0.8" stroke-dasharray="2.7 1.55"/>
<line x1="416.5" y1="2.0" x2="416.5" y2="232.5" stroke="#808080" stroke-width="0.9" stroke-dasharray="2.7 1.55"/>
<text x="258.6" y="245.1" font-size="9.5" text-anchor="middle">0.95</text>
<text x="290.2" y="245.1" font-size="9.5" text-anchor="middle">1</text>
<text x="321.8" y="245.1" font-size="9.5" text-anchor="middle">1.05</text>
<text x="353.4" y="245.1" font-size="9.5" text-anchor="middle">1.1</text>
<text x="385.0" y="245.1" font-size="9.5" text-anchor="middle">1.15</text>
<text x="416.7" y="245.1" font-size="9.5" text-anchor="middle">1.2</text>
<text x="255.9" y="236.0" font-size="9.5" text-anchor="end">0</text>
<text x="255.9" y="213.2" font-size="9.5" text-anchor="end">0.5</text>
<text x="255.9" y="190.4" font-size="9.5" text-anchor="end">1</text>
<text x="255.9" y="167.6" font-size="9.5" text-anchor="end">1.5</text>
<text x="255.9" y="144.8" font-size="9.5" text-anchor="end">2</text>
<text x="255.9" y="122.0" font-size="9.5" text-anchor="end">2.5</text>
<text x="255.9" y="99.2" font-size="9.5" text-anchor="end">3</text>
<text x="255.9" y="76.4" font-size="9.5" text-anchor="end">3.5</text>
<text x="255.9" y="53.6" font-size="9.5" text-anchor="end">4</text>
<text x="255.9" y="30.8" font-size="9.5" text-anchor="end">4.5</text>
<text x="255.9" y="8.0" font-size="9.5" text-anchor="end">5</text>
<text x="344" y="258.6" font-size="10.3" text-anchor="middle">R [m]</text>
<text transform="translate(233.4,118) rotate(-90)" font-size="11" text-anchor="middle">Te, T<tspan font-size="8.6" dy="3.2">0</tspan><tspan dy="-3.2"> [keV]</tspan></text>
<rect x="404.2" y="9.2" width="20.0" height="66.6" fill="#fff" stroke="#999" stroke-width="0.9"/>
<line x1="405.8" y1="15.4" x2="415.8" y2="15.4" stroke="#2a7a38" stroke-width="1.3"/>
<text x="416.59999999999997" y="18.7" font-size="9.2" text-anchor="start">A</text>
<line x1="405.8" y1="26.3" x2="415.8" y2="26.3" stroke="#dc2040" stroke-width="1.3"/>
<text x="416.59999999999997" y="29.6" font-size="9.2" text-anchor="start">B</text>
<line x1="405.8" y1="37.3" x2="415.8" y2="37.3" stroke="#fdb424" stroke-width="1.3"/>
<text x="416.59999999999997" y="40.599999999999994" font-size="9.2" text-anchor="start">C</text>
<line x1="405.8" y1="48.0" x2="415.8" y2="48.0" stroke="#2828e0" stroke-width="1.3" stroke-dasharray="3.4 3.0"/>
<text x="416.59999999999997" y="51.3" font-size="9.2" text-anchor="start">D</text>
<line x1="405.8" y1="58.9" x2="415.8" y2="58.9" stroke="#ee3cf0" stroke-width="1.3" stroke-dasharray="3.4 3.0"/>
<text x="416.59999999999997" y="62.199999999999996" font-size="9.2" text-anchor="start">E</text>
<line x1="405.8" y1="69.8" x2="415.8" y2="69.8" stroke="#20bc8c" stroke-width="1.3" stroke-dasharray="3.4 3.0"/>
<text x="416.59999999999997" y="73.1" font-size="9.2" text-anchor="start">F</text>
<line x1="505.5" y1="1.6" x2="505.5" y2="232.0" stroke="#f0f0f0" stroke-width="1"/>
<line x1="546.5" y1="1.6" x2="546.5" y2="232.0" stroke="#f0f0f0" stroke-width="1"/>
<line x1="586.5" y1="1.6" x2="586.5" y2="232.0" stroke="#f0f0f0" stroke-width="1"/>
<line x1="626.5" y1="1.6" x2="626.5" y2="232.0" stroke="#f0f0f0" stroke-width="1"/>
<line x1="667.5" y1="1.6" x2="667.5" y2="232.0" stroke="#f0f0f0" stroke-width="1"/>
<line x1="469.5" y1="196.5" x2="671.0" y2="196.5" stroke="#f0f0f0" stroke-width="1"/>
<line x1="469.5" y1="143.5" x2="671.0" y2="143.5" stroke="#f0f0f0" stroke-width="1"/>
<line x1="469.5" y1="89.5" x2="671.0" y2="89.5" stroke="#f0f0f0" stroke-width="1"/>
<line x1="469.5" y1="36.5" x2="671.0" y2="36.5" stroke="#f0f0f0" stroke-width="1"/>
<path d="M469.3 232.0 L488.3 232.0 L499.5 224.8 L520.0 206.0 L530.0 196.2 L556.8 170.5 L610.0 118.5 L622.0 107.0 L626.0 98.0 L628.0 92.5 L633.3 71.2 L634.5 68.6 L636.0 67.8 L672.5 67.8" fill="none" stroke="#2a7a38" stroke-width="1.15" stroke-linejoin="round"/>
<path d="M629.0 96.0 L632.5 86.0 L636.0 76.0 L639.0 67.0 L640.5 62.0 L642.4 46.8 L644.7 37.8 L646.5 36.0 L648.5 35.4 L672.5 35.3" fill="none" stroke="#2a7a38" stroke-width="1.2" stroke-dasharray="3.4 2.4" stroke-linejoin="round"/>
<path d="M469.3 205.3 L537.7 205.3 L546.6 196.8 L568.3 170.0 L593.7 135.5 L624.0 96.0 L631.3 66.6 L632.6 62.0 L633.6 59.8 L635.0 59.2 L672.5 59.2" fill="none" stroke="#dc2040" stroke-width="1.15" stroke-linejoin="round"/>
<path d="M624.5 97.0 L628.0 88.0 L633.3 70.0 L635.8 48.0 L636.6 38.0 L637.3 31.5 L639.5 28.2 L643.3 27.4 L664.6 27.4" fill="none" stroke="#dc2040" stroke-width="1.2" stroke-dasharray="3.4 2.4" stroke-linejoin="round"/>
<path d="M469.3 186.8 L564.5 186.8 L574.7 180.2 L581.0 170.0 L610.0 123.0 L623.5 95.0 L631.0 70.0 L635.0 54.0 L636.3 50.5 L637.5 49.8 L662.6 49.8" fill="none" stroke="#fdb424" stroke-width="1.15" stroke-linejoin="round"/>
<path d="M631.0 70.0 L635.0 56.0 L636.5 46.0 L637.2 36.0 L637.6 28.0 L638.2 23.5 L639.5 21.0 L643.3 19.5 L650.0 19.1 L661.0 19.1" fill="none" stroke="#fdb424" stroke-width="1.2" stroke-dasharray="3.4 2.4" stroke-linejoin="round"/>
<path d="M469.3 232.0 L483.0 232.0 L532.6 187.0 L551.0 170.0 L591.2 135.0 L614.8 113.5 L628.5 97.0 L630.3 92.5 L634.8 74.2 L636.2 70.0 L637.5 68.8 L672.5 68.8" fill="none" stroke="#2828e0" stroke-width="1.2" stroke-dasharray="4 1.2 1.2 1.2" stroke-linejoin="round"/>
<path d="M629.0 96.0 L632.5 86.0 L636.0 76.0 L639.0 67.0 L640.5 62.0 L642.4 46.8 L644.7 37.8 L646.5 36.0 L648.5 35.4 L672.5 35.3" fill="none" stroke="#2828e0" stroke-width="1.2" stroke-dasharray="3.4 2.4" stroke-dashoffset="1.4" stroke-linejoin="round"/>
<path d="M469.3 232.0 L483.0 232.0 L532.6 187.0 L551.0 170.0 L591.2 135.0 L614.8 113.5 L628.5 97.0 L630.3 92.5 L634.8 74.2" fill="none" stroke="#2828e0" stroke-width="1.0" stroke-linejoin="round"/>
<path d="M469.3 205.3 L544.0 205.3 L554.3 196.8 L574.7 170.0 L601.0 135.0 L614.8 117.0 L627.0 97.3 L631.0 84.0 L633.3 72.0 L635.0 64.0 L636.5 60.2 L638.0 59.0 L669.0 59.0" fill="none" stroke="#ee3cf0" stroke-width="1.2" stroke-linejoin="round"/>
<path d="M627.0 97.3 L633.0 80.0 L637.0 70.0 L640.9 58.2 L643.2 43.7 L645.5 34.6 L647.5 31.0 L650.0 29.2 L654.0 28.6 L667.0 28.6" fill="none" stroke="#ee3cf0" stroke-width="1.2" stroke-linejoin="round"/>
<path d="M469.3 186.8 L576.0 186.8 L583.7 184.0 L592.6 170.0 L609.8 135.0 L621.0 111.0 L627.2 97.3 L633.0 80.0 L638.0 62.0 L641.0 50.0 L642.4 46.0 L644.0 45.1 L669.0 45.1" fill="none" stroke="#20bc8c" stroke-width="1.2" stroke-dasharray="4 1.2 1.2 1.2" stroke-linejoin="round"/>
<path d="M627.2 97.3 L633.0 80.0 L638.0 62.0 L642.4 45.0 L644.7 32.0 L645.6 27.8 L647.8 23.3 L650.9 20.7 L658.5 19.1 L667.0 18.3" fill="none" stroke="#20bc8c" stroke-width="1.2" stroke-dasharray="3.4 2.4" stroke-linejoin="round"/>
<path d="M469.3 186.8 L576.0 186.8 L583.7 184.0 L592.6 170.0 L609.8 135.0 L621.0 111.0 L627.2 97.3 L633.0 80.0 L638.0 62.0" fill="none" stroke="#20bc8c" stroke-width="1.3" stroke-dasharray="3.4 2.4" stroke-dashoffset="1.0" stroke-linejoin="round"/>
<line x1="635.5" y1="1.6" x2="635.5" y2="232.0" stroke="#7a7aff" stroke-width="0.8" stroke-dasharray="2.7 1.55"/>
<line x1="667.5" y1="1.6" x2="667.5" y2="232.0" stroke="#868686" stroke-width="0.8" stroke-dasharray="2.7 1.55"/>
<rect x="469.5" y="1.6" width="201.5" height="230.4" fill="none" stroke="#a6a6a6" stroke-width="0.9"/>
<line x1="505.5" y1="232.0" x2="505.5" y2="229.8" stroke="#a6a6a6" stroke-width="1"/>
<line x1="505.5" y1="1.6" x2="505.5" y2="3.8000000000000003" stroke="#a6a6a6" stroke-width="1"/>
<text x="505.5" y="242.2" font-size="7.2" text-anchor="middle">1</text>
<line x1="546.5" y1="232.0" x2="546.5" y2="229.8" stroke="#a6a6a6" stroke-width="1"/>
<line x1="546.5" y1="1.6" x2="546.5" y2="3.8000000000000003" stroke="#a6a6a6" stroke-width="1"/>
<text x="546.0" y="242.2" font-size="7.2" text-anchor="middle">1.05</text>
<line x1="586.5" y1="232.0" x2="586.5" y2="229.8" stroke="#a6a6a6" stroke-width="1"/>
<line x1="586.5" y1="1.6" x2="586.5" y2="3.8000000000000003" stroke="#a6a6a6" stroke-width="1"/>
<text x="586.5" y="242.2" font-size="7.2" text-anchor="middle">1.1</text>
<line x1="626.5" y1="232.0" x2="626.5" y2="229.8" stroke="#a6a6a6" stroke-width="1"/>
<line x1="626.5" y1="1.6" x2="626.5" y2="3.8000000000000003" stroke="#a6a6a6" stroke-width="1"/>
<text x="627.0" y="242.2" font-size="7.2" text-anchor="middle">1.15</text>
<line x1="667.5" y1="232.0" x2="667.5" y2="229.8" stroke="#a6a6a6" stroke-width="1"/>
<line x1="667.5" y1="1.6" x2="667.5" y2="3.8000000000000003" stroke="#a6a6a6" stroke-width="1"/>
<text x="667.5" y="242.2" font-size="7.2" text-anchor="middle">1.2</text>
<line x1="469.5" y1="196.5" x2="471.7" y2="196.5" stroke="#a6a6a6" stroke-width="1"/>
<line x1="671.0" y1="196.5" x2="668.8" y2="196.5" stroke="#a6a6a6" stroke-width="1"/>
<text x="466.0" y="201.9" font-size="7.2" text-anchor="end">10<tspan font-size="5.6" dy="-4">12</tspan></text>
<line x1="469.5" y1="143.5" x2="471.7" y2="143.5" stroke="#a6a6a6" stroke-width="1"/>
<line x1="671.0" y1="143.5" x2="668.8" y2="143.5" stroke="#a6a6a6" stroke-width="1"/>
<text x="466.0" y="148.6" font-size="7.2" text-anchor="end">10<tspan font-size="5.6" dy="-4">14</tspan></text>
<line x1="469.5" y1="89.5" x2="471.7" y2="89.5" stroke="#a6a6a6" stroke-width="1"/>
<line x1="671.0" y1="89.5" x2="668.8" y2="89.5" stroke="#a6a6a6" stroke-width="1"/>
<text x="466.0" y="95.4" font-size="7.2" text-anchor="end">10<tspan font-size="5.6" dy="-4">16</tspan></text>
<line x1="469.5" y1="36.5" x2="471.7" y2="36.5" stroke="#a6a6a6" stroke-width="1"/>
<line x1="671.0" y1="36.5" x2="668.8" y2="36.5" stroke="#a6a6a6" stroke-width="1"/>
<text x="466.0" y="42.1" font-size="7.2" text-anchor="end">10<tspan font-size="5.6" dy="-4">18</tspan></text>
<text x="570.3" y="253.0" font-size="8.3" text-anchor="middle">R [m]</text>
<rect x="490.6" y="15.0" width="49.4" height="107.4" fill="#fff" stroke="#999" stroke-width="0.9"/>
<line x1="500" y1="20.4" x2="510.4" y2="20.4" stroke="#2a7a38" stroke-width="1.2"/>
<text x="511.4" y="22.9" font-size="7.0" text-anchor="start">A-nD</text>
<line x1="500" y1="29.2" x2="510.4" y2="29.2" stroke="#2a7a38" stroke-width="1.2" stroke-dasharray="3.7 3"/>
<text x="511.4" y="31.7" font-size="7.0" text-anchor="start">A-nD2</text>
<line x1="500" y1="38.1" x2="510.4" y2="38.1" stroke="#dc2040" stroke-width="1.2"/>
<text x="511.4" y="40.6" font-size="7.0" text-anchor="start">B-nD</text>
<line x1="500" y1="46.9" x2="510.4" y2="46.9" stroke="#dc2040" stroke-width="1.2" stroke-dasharray="3.7 3"/>
<text x="511.4" y="49.4" font-size="7.0" text-anchor="start">B-nD2</text>
<line x1="500" y1="55.8" x2="510.4" y2="55.8" stroke="#fdb424" stroke-width="1.2"/>
<text x="511.4" y="58.3" font-size="7.0" text-anchor="start">C-nD</text>
<line x1="500" y1="64.6" x2="510.4" y2="64.6" stroke="#fdb424" stroke-width="1.2" stroke-dasharray="3.7 3"/>
<text x="511.4" y="67.1" font-size="7.0" text-anchor="start">C-nD2</text>
<line x1="500" y1="73.4" x2="510.4" y2="73.4" stroke="#2828e0" stroke-width="1.2" stroke-dasharray="3.2 1 1 1"/>
<text x="511.4" y="75.9" font-size="7.0" text-anchor="start">D-nD</text>
<line x1="500" y1="82.3" x2="510.4" y2="82.3" stroke="#2828e0" stroke-width="1.2" stroke-dasharray="3.7 3"/>
<text x="511.4" y="84.8" font-size="7.0" text-anchor="start">D-nD2</text>
<line x1="500" y1="91.1" x2="510.4" y2="91.1" stroke="#ee3cf0" stroke-width="1.2" stroke-dasharray="3.2 1 1 1"/>
<text x="511.4" y="93.6" font-size="7.0" text-anchor="start">E-nD</text>
<line x1="500" y1="100.0" x2="510.4" y2="100.0" stroke="#ee3cf0" stroke-width="1.2" stroke-dasharray="3.2 1 1 1"/>
<text x="511.4" y="102.5" font-size="7.0" text-anchor="start">E-nD2</text>
<line x1="500" y1="108.8" x2="510.4" y2="108.8" stroke="#20bc8c" stroke-width="1.2" stroke-dasharray="3.2 1 1 1"/>
<text x="511.4" y="111.3" font-size="7.0" text-anchor="start">F-nD</text>
<line x1="500" y1="117.6" x2="510.4" y2="117.6" stroke="#20bc8c" stroke-width="1.2" stroke-dasharray="3.7 3"/>
<text x="511.4" y="120.1" font-size="7.0" text-anchor="start">F-nD2</text>
</svg>
</body></html>
